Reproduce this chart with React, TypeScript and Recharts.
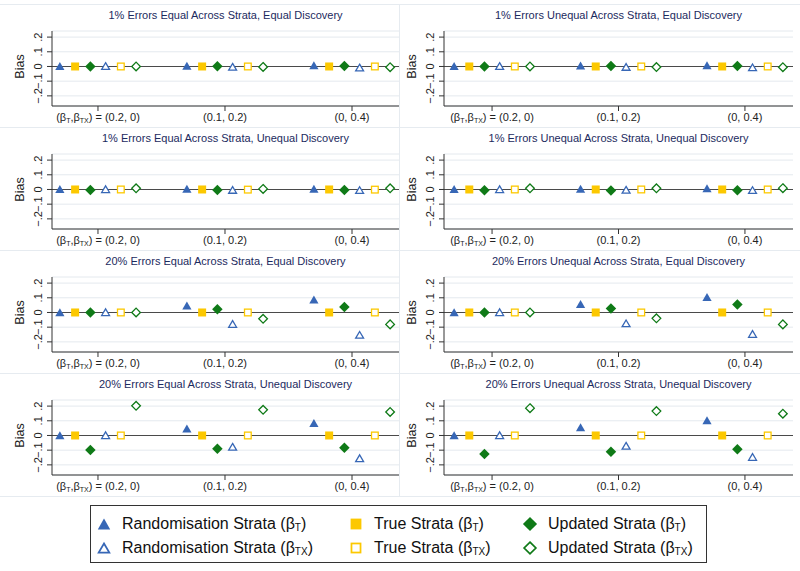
import React from "react";
import {
  ScatterChart,
  Scatter,
  XAxis,
  YAxis,
  CartesianGrid,
  ReferenceLine,
} from "recharts";

// beta pairs on the x axis
const categories = ["(0.2, 0)", "(0.1, 0.2)", "(0, 0.4)"];
const yTicks = [-0.2, -0.1, 0, 0.1, 0.2];
const yTickLabels = ["\u2212.2", "\u2212.1", "0", ".1", ".2"];

const strataNames = ["Randomisation Strata", "True Strata", "Updated Strata"];
const coefNames = ["T", "TX"];

const panelTitles = [
  "1% Errors Equal Across Strata, Equal Discovery",
  "1% Errors Unequal Across Strata, Equal Discovery",
  "1% Errors Equal Across Strata, Unequal Discovery",
  "1% Errors Unequal Across Strata, Unequal Discovery",
  "20% Errors Equal Across Strata, Equal Discovery",
  "20% Errors Unequal Across Strata, Equal Discovery",
  "20% Errors Equal Across Strata, Unequal Discovery",
  "20% Errors Unequal Across Strata, Unequal Discovery",
];

// rows: rand bT, true bT, updated bT, rand bTX, true bTX, updated bTX
const bias1EqEq = [
  [0.003, 0.005, 0.008],
  [0, 0, 0],
  [0, 0.002, 0.003],
  [0.003, -0.002, -0.007],
  [0, 0, 0],
  [0, -0.003, -0.005],
];
const bias1UneqEq = [
  [0.003, 0.006, 0.009],
  [0, 0, 0],
  [0, 0.003, 0.004],
  [0.003, -0.003, -0.006],
  [0, 0, 0],
  [0, -0.004, -0.005],
];
const bias1EqUneq = [
  [0.003, 0.005, 0.005],
  [0, 0, 0],
  [-0.004, -0.004, -0.004],
  [0.002, -0.003, -0.004],
  [0, -0.001, -0.001],
  [0.008, 0.004, 0.008],
];
const bias1UneqUneq = [
  [0.003, 0.005, 0.008],
  [0, 0, 0],
  [-0.006, -0.007, -0.006],
  [0.002, -0.002, -0.004],
  [0, 0, 0],
  [0.008, 0.008, 0.009],
];
const bias20EqEq = [
  [0.002, 0.048, 0.088],
  [0, 0, 0],
  [0, 0.022, 0.038],
  [0.002, -0.078, -0.152],
  [0, 0, 0],
  [0, -0.043, -0.081],
];
const bias20UneqEq = [
  [0.002, 0.058, 0.105],
  [0, 0, 0],
  [0, 0.027, 0.054],
  [0.002, -0.074, -0.146],
  [0, 0, 0],
  [0, -0.04, -0.081],
];
const bias20EqUneq = [
  [0.002, 0.047, 0.085],
  [0, 0, 0],
  [-0.099, -0.09, -0.083],
  [0.002, -0.077, -0.155],
  [0, 0, 0],
  [0.202, 0.175, 0.16],
];
const bias20UneqUneq = [
  [0.002, 0.056, 0.103],
  [0, 0, 0],
  [-0.126, -0.11, -0.094],
  [0.002, -0.07, -0.146],
  [0, 0, 0],
  [0.186, 0.166, 0.148],
];

const panelValues = [
  bias1EqEq,
  bias1UneqEq,
  bias1EqUneq,
  bias1UneqUneq,
  bias20EqEq,
  bias20UneqEq,
  bias20EqUneq,
  bias20UneqUneq,
];

// layout / style
const FONT = '"Liberation Sans", Arial, Helvetica, sans-serif';
const BLUE = "#3767b6";
const YELLOW = "#fcc800";
const GREEN = "#0f7a17";
const SERIES_STYLE = [
  { shape: "triangle", color: BLUE, filled: true },
  { shape: "square", color: YELLOW, filled: true },
  { shape: "diamond", color: GREEN, filled: true },
  { shape: "triangle", color: BLUE, filled: false },
  { shape: "square", color: YELLOW, filled: false },
  { shape: "diamond", color: GREEN, filled: false },
];
const OFFSETS = [-0.3, -0.18, -0.06, 0.06, 0.18, 0.3];
const COLS = [
  { left: 0, axisW: 52, right: 1, domain: [0.638, 3.37] },
  { left: 400, axisW: 44, right: 7, domain: [0.62, 3.38] },
];
const PANEL_H = 123;
const PANEL_TOP = 5;

function Marker(props: any) {
  const { cx, cy, shape, color, filled, scale = 1 } = props;
  if (cx == null || cy == null) return null;
  const sw = filled ? 0 : 1.3 * scale;
  const fill = filled ? color : "#fff";
  if (shape === "triangle") {
    const w = 9.2 * scale - sw;
    const h = 8 * scale - sw;
    return (
      <polygon
        points={`${cx},${cy - h / 2} ${cx + w / 2},${cy + h / 2} ${cx - w / 2},${cy + h / 2}`}
        fill={fill}
        stroke={color}
        strokeWidth={sw}
        strokeLinejoin="miter"
      />
    );
  }
  if (shape === "square") {
    const s = 8 * scale - sw;
    return (
      <rect x={cx - s / 2} y={cy - s / 2} width={s} height={s} fill={fill} stroke={color} strokeWidth={sw} />
    );
  }
  const d = 10.5 * scale - sw * 1.4;
  return (
    <polygon
      points={`${cx},${cy - d / 2} ${cx + d / 2},${cy} ${cx},${cy + d / 2} ${cx - d / 2},${cy}`}
      fill={fill}
      stroke={color}
      strokeWidth={sw}
    />
  );
}

function XTick(props: any) {
  const { x, y, payload } = props;
  const idx = Math.round(payload.value) - 1;
  if (idx === 0) {
    return (
      <text x={x} y={y + 10} textAnchor="middle" fontSize={11} fill="#222" fontFamily={FONT}>
        <tspan>(β</tspan>
        <tspan fontSize={7} dy={1.5}>T</tspan>
        <tspan dy={-1.5}>,β</tspan>
        <tspan fontSize={7} dy={1.5}>TX</tspan>
        <tspan dy={-1.5}>) = {categories[0]}</tspan>
      </text>
    );
  }
  return (
    <text x={x} y={y + 10} textAnchor="middle" fontSize={11} fill="#222" fontFamily={FONT}>
      {categories[idx]}
    </text>
  );
}

function YTick(props: any) {
  const { x, y, payload } = props;
  const i = yTicks.findIndex((t) => Math.abs(t - payload.value) < 1e-6);
  return (
    <text
      transform={`translate(${x - 5},${y}) rotate(-90)`}
      textAnchor="middle"
      fontSize={11}
      fill="#222"
      fontFamily={FONT}
    >
      {i >= 0 ? yTickLabels[i] : ""}
    </text>
  );
}

function BiasLabel(props: any) {
  const vb = props.viewBox || {};
  const x = (vb.x || 0) + (vb.width || 0) - 28;
  const y = (vb.y || 0) + (vb.height || 0) / 2 - 2;
  return (
    <text
      transform={`translate(${x},${y}) rotate(-90)`}
      textAnchor="middle"
      fontSize={12.5}
      fill="#222"
      fontFamily={FONT}
    >
      Bias
    </text>
  );
}

function Panel({ index }: { index: number }) {
  const row = Math.floor(index / 2);
  const col = COLS[index % 2];
  const top = PANEL_TOP + row * PANEL_H;
  const values = panelValues[index];
  const plotW = 400 - col.axisW - col.right;
  return (
    <div style={{ position: "absolute", left: col.left, top, width: 400, height: PANEL_H }}>
      <div
        style={{
          position: "absolute",
          left: col.axisW,
          width: plotW,
          top: 5,
          textAlign: "center",
          fontSize: 11,
          lineHeight: "11px",
          color: "#1c2a5e",
          fontFamily: FONT,
          whiteSpace: "nowrap",
        }}
      >
        {panelTitles[index]}
      </div>
      <ScatterChart
        width={400}
        height={PANEL_H}
        margin={{ top: 26, right: col.right, bottom: 0, left: 0 }}
      >
        <CartesianGrid horizontal vertical={false} stroke="#e4e9ee" strokeWidth={1} />
        <XAxis
          type="number"
          dataKey="x"
          domain={col.domain}
          allowDataOverflow
          ticks={[1, 2, 3]}
          interval={0}
          height={22}
          tickSize={5}
          tickMargin={0}
          stroke="#333"
          tick={<XTick />}
        />
        <YAxis
          type="number"
          dataKey="y"
          domain={[-0.269, 0.2415]}
          allowDataOverflow
          ticks={yTicks}
          interval={0}
          width={col.axisW}
          tickSize={5}
          tickMargin={0}
          stroke="#333"
          tick={<YTick />}
          label={<BiasLabel />}
        />
        <ReferenceLine y={0} stroke="#4a4a4a" strokeWidth={1.2} />
        {values.map((vals, s) => {
          const data = vals.map((v, j) => ({ x: j + 1 + OFFSETS[s], y: v }));
          const st = SERIES_STYLE[s];
          return (
            <Scatter
              key={s}
              data={data}
              isAnimationActive={false}
              shape={(p: any) => (
                <Marker cx={p.cx} cy={p.cy} shape={st.shape} color={st.color} filled={st.filled} />
              )}
            />
          );
        })}
      </ScatterChart>
    </div>
  );
}

function LegendItem({ s, left, top }: { s: number; left: number; top: number }) {
  const st = SERIES_STYLE[s];
  const name = strataNames[s % 3];
  const coef = coefNames[Math.floor(s / 3)];
  return (
    <div style={{ position: "absolute", left, top, height: 20, display: "flex", alignItems: "center" }}>
      <svg width={18} height={18} style={{ marginLeft: -9 }}>
        <Marker cx={9} cy={9} shape={st.shape} color={st.color} filled={st.filled} scale={1.35} />
      </svg>
      <span
        style={{
          position: "absolute",
          left: 18,
          whiteSpace: "nowrap",
          fontSize: 16,
          fontFamily: FONT,
          color: "#111",
        }}
      >
        {name} (β
        <span style={{ fontSize: 10, position: "relative", top: 2 }}>{coef}</span>)
      </span>
    </div>
  );
}

export default function App() {
  const markerX = [13, 265, 439];
  const rowY = [8, 32];
  return (
    <div
      style={{
        position: "absolute",
        left: 0,
        top: 0,
        width: 800,
        height: 571,
        background: "#fff",
        overflow: "hidden",
      }}
    >
      {[0, 1, 2, 3, 4].map((r) => (
        <div
          key={"h" + r}
          style={{
            position: "absolute",
            left: 0,
            width: 800,
            top: PANEL_TOP + r * PANEL_H - 1,
            height: 1,
            background: "#e6ebf0",
          }}
        />
      ))}
      <div
        style={{
          position: "absolute",
          left: 399,
          width: 1,
          top: PANEL_TOP,
          height: PANEL_H * 4,
          background: "#e6ebf0",
        }}
      />
      {panelTitles.map((_, i) => (
        <Panel key={i} index={i} />
      ))}
      <div
        style={{
          position: "absolute",
          left: 90,
          top: 505,
          width: 615,
          height: 56,
          border: "1.5px solid #333",
        }}
      >
        {SERIES_STYLE.map((_, s) => (
          <LegendItem key={s} s={s} left={markerX[s % 3]} top={rowY[Math.floor(s / 3)]} />
        ))}
      </div>
    </div>
  );
}
